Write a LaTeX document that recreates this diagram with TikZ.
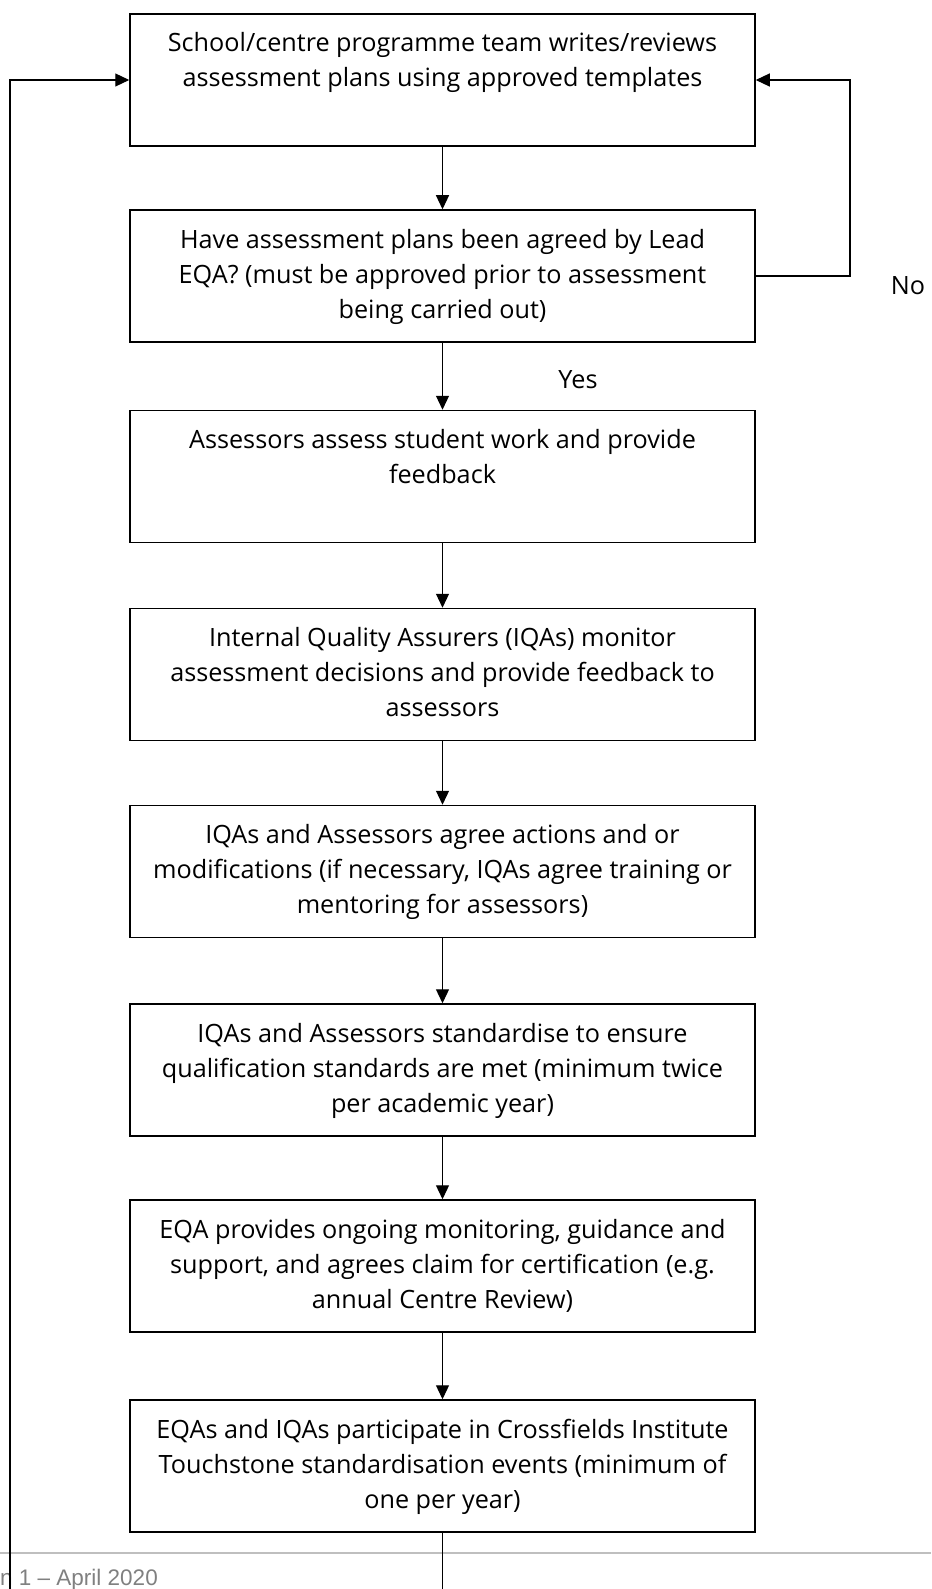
\documentclass[tikz,border=0pt]{standalone}
\usepackage{fontspec}
\setmainfont{Open Sans}
\newfontfamily\footfont{Liberation Sans}
\usetikzlibrary{arrows.meta}
\begin{document}
\begin{tikzpicture}[x=1pt,y=-1pt,
  boxnode/.style={draw=black, line width=1.5pt, rectangle, minimum width=625pt, minimum height=132pt,
    inner sep=0pt, align=center, font=\fontsize{25.2}{35}\selectfont},
  lbl/.style={inner sep=0pt, font=\fontsize{25.2}{35}\selectfont},
  arr/.style={line width=1.2pt, -{Triangle[width=13pt,length=14pt]}},
  ln/.style={line width=1.2pt}
]
\useasboundingbox (0,0) rectangle (931,1589);
% footer rule and text
\draw[line width=2.2pt, color={rgb,255:red,191;green,191;blue,191}] (0,1553) -- (931,1553);
\node[anchor=base west, inner sep=0pt, text={rgb,255:red,128;green,128;blue,128}, font=\footfont\fontsize{22.5}{26}\selectfont] (foot) at (0,1585) {n 1 – April 2020};

\node[boxnode] (b1) at (442.5,80) {\strut School/centre programme team writes/reviews\\\strut assessment plans using approved templates\\\strut};
\node[boxnode] (b2) at (442.5,276) {\strut Have assessment plans been agreed by Lead\\\strut EQA? (must be approved prior to assessment\\\strut being carried out)};
\node[boxnode] (b3) at (442.5,476.5) {\strut Assessors assess student work and provide\\\strut feedback\\\strut};
\node[boxnode] (b4) at (442.5,674.5) {\strut Internal Quality Assurers (IQAs) monitor\\\strut assessment decisions and provide feedback to\\\strut assessors};
\node[boxnode] (b5) at (442.5,871.5) {\strut IQAs and Assessors agree actions and or\\\strut modifications (if necessary, IQAs agree training or\\\strut mentoring for assessors)};
\node[boxnode] (b6) at (442.5,1070) {\strut IQAs and Assessors standardise to ensure\\\strut qualification standards are met (minimum twice\\\strut per academic year)};
\node[boxnode] (b7) at (442.5,1266) {\strut EQA provides ongoing monitoring, guidance and\\\strut support, and agrees claim for certification (e.g.\\\strut annual Centre Review)};
\node[boxnode] (b8) at (442.5,1466) {\strut EQAs and IQAs participate in Crossfields Institute\\\strut Touchstone standardisation events (minimum of\\\strut one per year)};

\node[lbl] (yes) at (578,380) {Yes};
\node[lbl] (no) at (908,286) {No};

\draw[arr] (b1) -- (b2);
\draw[arr] (b2) -- (b3);
\draw[arr] (b3) -- (b4);
\draw[arr] (b4) -- (b5);
\draw[arr] (b5) -- (b6);
\draw[arr] (b6) -- (b7);
\draw[arr] (b7) -- (b8);

\coordinate (noturn) at (850,276);
\draw[arr] (b2.east) -- (noturn) |- (b1.east);

\coordinate (bottomout) at (442.5,1589);
\draw[ln] (b8.south) -- (bottomout);
\coordinate (leftin) at (10,1589);
\draw[arr] (leftin) |- (b1.west);
\end{tikzpicture}
\end{document}
